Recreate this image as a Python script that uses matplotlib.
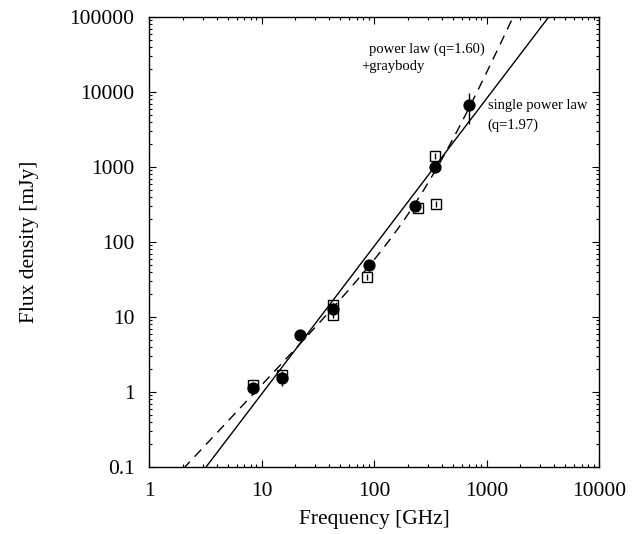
import numpy as np
import matplotlib
matplotlib.use("Agg")
import matplotlib.pyplot as plt
from matplotlib.ticker import LogLocator, FixedLocator, NullFormatter

plt.rcParams['font.family'] = ['Liberation Serif', 'DejaVu Serif']
plt.rcParams['mathtext.fontset'] = 'stix'

# filled circles (GHz, mJy)
circ_freq = [8.4, 15.2, 22.0, 43.2, 90.0, 231.0, 348.0, 699.0]
circ_flux = [1.13, 1.54, 5.75, 12.8, 49.0, 302.0, 1000.0, 6700.0]
circ_err = [0.2, 0.35, 0.4, 0.8, 2.5, 15.0, 50.0, 3000.0]

# open squares (GHz, mJy)
sq_freq = [8.4, 15.2, 43.2, 43.2, 86.6, 246.0, 348.0, 356.0]
sq_flux = [1.24, 1.69, 14.4, 10.6, 34.0, 284.0, 1400.0, 321.0]
sq_err = [0.08, 0.12, 1.2, 0.9, 3.0, 25.0, 120.0, 30.0]

# single power law
q_single = 1.97
s100_single = 87.3      # mJy at 100 GHz

# power law + graybody
q_pl = 1.60
a_pl = 0.0308           # mJy at 1 GHz
b_gb = 2.68e-6          # graybody term
p_gb = 3.26

nu = np.logspace(0, 4, 400)
single = s100_single * (nu / 100.0) ** q_single
combo = a_pl * nu ** q_pl + b_gb * nu ** p_gb

fig = plt.figure(figsize=(6.42, 5.34), dpi=100)
ax = fig.add_axes([149 / 642, 1 - 467 / 534, 450 / 642, 450 / 534])

ax.plot(nu, single, color='black', lw=1.0)
ax.plot(nu, combo, color='black', lw=1.0, ls=(0, (7, 5)))

ax.errorbar(sq_freq, sq_flux, yerr=sq_err, fmt='s', ms=7.6, mfc='none',
            mec='black', mew=1.0, ecolor='black', elinewidth=1.0, capsize=0)
ax.errorbar(circ_freq, circ_flux, yerr=circ_err, fmt='o', ms=7.8, mfc='black',
            mec='black', ecolor='black', elinewidth=1.0, capsize=0)

ax.set_xscale('log')
ax.set_yscale('log')
ax.set_xlim(1, 10000)
ax.set_ylim(0.1, 100000)

ax.xaxis.set_major_locator(FixedLocator([1, 10, 100, 1000, 10000]))
ax.yaxis.set_major_locator(FixedLocator([0.1, 1, 10, 100, 1000, 10000, 100000]))
ax.set_xticklabels(['1', '10', '100', '1000', '10000'])
ax.set_yticklabels(['0.1', '1', '10', '100', '1000', '10000', '100000'])
ax.xaxis.set_minor_locator(LogLocator(base=10, subs=np.arange(2, 10), numticks=20))
ax.yaxis.set_minor_locator(LogLocator(base=10, subs=np.arange(2, 10), numticks=20))
ax.xaxis.set_minor_formatter(NullFormatter())
ax.yaxis.set_minor_formatter(NullFormatter())

ax.tick_params(which='both', direction='in', top=True, right=True,
               labelsize=15.5, width=0.8)
ax.tick_params(which='major', length=5)
ax.tick_params(axis='x', which='major', pad=10.5)
ax.tick_params(axis='y', which='major', pad=10.5)
ax.tick_params(which='minor', length=2.5)
for s in ax.spines.values():
    s.set_linewidth(1.0)

ax.set_xlabel('Frequency [GHz]', fontsize=15.5)
ax.set_ylabel('Flux density [mJy]', fontsize=15.5)
ax.xaxis.set_label_coords(0.5, -0.116)
ax.xaxis.label.set_va('center')
ax.yaxis.set_label_coords(-0.265, 0.5)
ax.yaxis.label.set_va('center')

ax.text(0.489, 0.929, 'power law (q=1.60)', transform=ax.transAxes,
        fontsize=10.5, ha='left', va='center')
ax.text(0.471, 0.889, '+graybody', transform=ax.transAxes,
        fontsize=10.5, ha='left', va='center')
ax.text(0.753, 0.804, 'single power law', transform=ax.transAxes,
        fontsize=10.5, ha='left', va='center')
ax.text(0.753, 0.760, '(q=1.97)', transform=ax.transAxes,
        fontsize=10.5, ha='left', va='center')

fig.savefig('out.png', dpi=100)
